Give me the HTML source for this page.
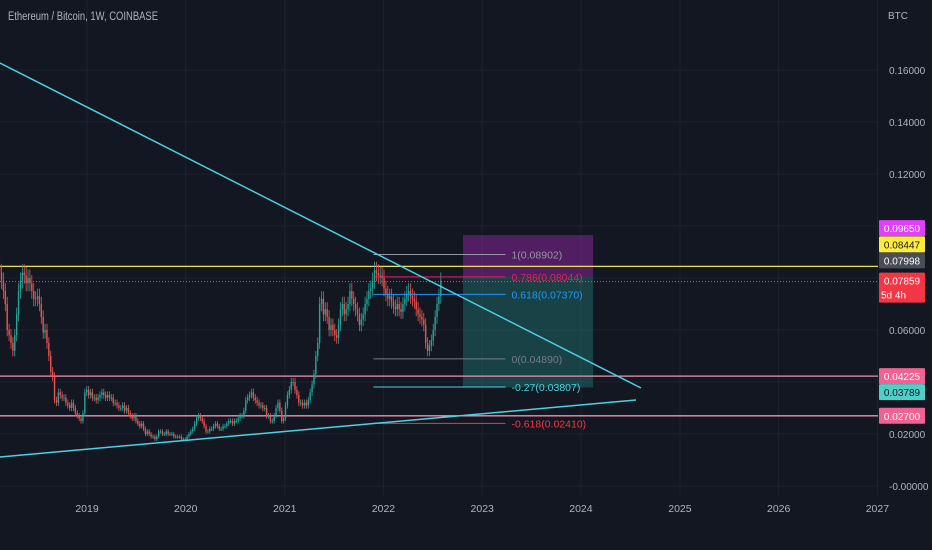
<!DOCTYPE html>
<html><head><meta charset="utf-8"><style>
html,body{margin:0;padding:0;background:#131722;}
svg{display:block;font-family:"Liberation Sans",sans-serif;}
</style></head><body>
<svg id="chart" width="932" height="550" viewBox="0 0 932 550" xmlns="http://www.w3.org/2000/svg">
<rect x="0" y="0" width="932" height="550" fill="#131722"/>
<g id="grid"></g>
<g id="box"></g>
<g id="hlines"></g>
<g id="candles"></g>
<g id="fib"></g>
<g id="trend"></g>
<g id="axes"></g>
<text x="8" y="20" fill="#b2b5be" font-size="11.5" textLength="150" lengthAdjust="spacingAndGlyphs">Ethereum / Bitcoin, 1W, COINBASE</text>
<text x="888" y="19" fill="#b2b5be" font-size="10">BTC</text>
</svg>
<script>
const closes = [
0.085,0.082,0.079,0.075, 0.070,0.060,0.058,0.055, 0.052,0.058,0.066,0.075,0.079, 0.082,0.081,0.078,0.080,
0.078,0.075,0.072,0.072, 0.073,0.070,0.065,0.059,0.060, 0.055,0.050,0.044,0.042, 0.033,0.032,0.036,0.035,
0.034,0.034,0.032,0.031,0.030, 0.032,0.030,0.028,0.027, 0.026,0.025,0.028,0.036,0.037,
0.035,0.036,0.034,0.034, 0.033,0.034,0.035,0.036, 0.035,0.034,0.035,0.034, 0.034,0.032,0.032,0.031,0.030,
0.030,0.031,0.029,0.030, 0.028,0.027,0.026,0.027, 0.025,0.024,0.023,0.024,0.022, 0.020,0.021,0.020,0.019,
0.019,0.018,0.019,0.021,0.021, 0.020,0.020,0.021,0.020, 0.020,0.020,0.019,0.019, 0.019,0.019,0.018,0.018,0.018,
0.019,0.020,0.021,0.022, 0.024,0.026,0.027,0.026, 0.025,0.023,0.021,0.021,0.022, 0.022,0.023,0.024,0.023,
0.022,0.022,0.023,0.023, 0.024,0.025,0.025,0.024,0.025, 0.025,0.026,0.027,0.027, 0.029,0.033,0.034,0.035,
0.036,0.034,0.033,0.032, 0.031,0.031,0.030,0.030,0.027, 0.027,0.025,0.025,0.027, 0.030,0.032,0.029,0.025,
0.026,0.031,0.035,0.037,0.040, 0.040,0.037,0.035,0.032, 0.032,0.031,0.032,0.031, 0.033,0.036,0.039,0.043,0.050,
0.055,0.070,0.072,0.066, 0.068,0.065,0.060,0.062, 0.060,0.058,0.057,0.062, 0.068,0.070,0.066,0.068,0.070,
0.075,0.072,0.070,0.068, 0.066,0.062,0.064,0.066, 0.070,0.072,0.075,0.076,0.079, 0.083,0.082,0.081,0.081,
0.080,0.076,0.074,0.072,0.073, 0.071,0.069,0.068,0.070, 0.068,0.067,0.070,0.072, 0.074,0.075,0.073,0.072,
0.071,0.068,0.066,0.065,0.064, 0.062,0.055,0.052,0.054, 0.056,0.060,0.065,0.070, 0.073,0.079
];
const firstOpen = 0.088;
const startDate = "2018-02-05";
const priceTicks = [0.16,0.14,0.12,0.06,0.02,0.00];
const priceTickLabels = ["0.16000","0.14000","0.12000","0.06000","0.02000","-0.00000"];
const years = [2019,2020,2021,2022,2023,2024,2025,2026,2027];
const fibLevels = ["1","0.786","0.618","0","-0.27","-0.618"];
const fibValues = [0.08902,0.08044,0.07370,0.04890,0.03807,0.02410];
const hlineValues = [0.08447,0.07859,0.04225,0.02700];
const axisLabelValues = [0.09650,0.08447,0.07998,0.07859,0.04225,0.03789,0.02700];
const axisLabelTexts = ["0.09650","0.08447","0.07998","0.07859","0.04225","0.03789","0.02700"];

const NS="http://www.w3.org/2000/svg";
function y(v){return 486 - v*2600;}
const base = Date.UTC(2019,0,1);
function xd(ms){return 87 + (ms-base)/86400000*(98.8/365.25);}
function xy(yr){return xd(Date.UTC(yr,0,1));}
function mk(tag,attrs,parent){const e=document.createElementNS(NS,tag);for(const k in attrs)e.setAttribute(k,attrs[k]);parent.appendChild(e);return e;}
const G=id=>document.getElementById(id);

years.forEach(yr=>{
  const l=mk('line',{x1:xy(yr),x2:xy(yr),y1:0,y2:495,stroke:'#1e222d','stroke-width':1},G('grid'));
  
  
});
[0.16,0.14,0.12,0.10,0.08,0.06,0.04,0.02,0.00].forEach(v=>{
  const l=mk('line',{x1:0,x2:878,y1:y(v),y2:y(v),stroke:'#1e222d','stroke-width':1},G('grid'));
  
  
});

const bx1=xd(Date.UTC(2022,9,22)), bx2=xd(Date.UTC(2024,1,15));
let r=mk('rect',{x:bx1,y:y(0.0965),width:bx2-bx1,height:y(0.0806)-y(0.0965),fill:'rgba(156,39,176,0.45)'},G('box'));


r=mk('rect',{x:bx1,y:y(0.0806),width:bx2-bx1,height:y(0.03789)-y(0.0806),fill:'rgba(38,166,154,0.3)'},G('box'));



const hcols=['#e8e05a','#ef5350','#f48fb1','#f48fb1'];
hlineValues.forEach((v,i)=>{
  const a={x1:0,x2:878,y1:y(v),y2:y(v),stroke:hcols[i],'stroke-width':i==1?1:1.3};
  if(i==1)a['stroke-dasharray']='1 2';
  const l=mk('line',a,G('hlines'));
  
  
});

const t0=Date.parse(startDate);
let prev=firstOpen;
closes.forEach((c,i)=>{
  const o=prev; prev=c;
  const x=xd(t0+i*7*86400000);
  const up=c>=o, col=up?'#26a69a':'#ef5350';
  const hi=Math.max(o,c)*1.04, lo=Math.min(o,c)*0.96;
  const w=mk('line',{x1:x,x2:x,y1:y(hi),y2:y(lo),stroke:col,'stroke-width':0.8},G('candles'));
  
  
  const b=mk('rect',{x:x-0.7,y:y(Math.max(o,c)),width:1.4,height:Math.max(1,Math.abs(y(o)-y(c))),fill:col},G('candles'));
  
  
});

const fcols=['#9598a1','#e91e63','#2196f3','#787b86','#4dd0e1','#f23645'];
const fx1=xd(Date.UTC(2021,10,25)), fx2=xd(Date.UTC(2023,2,28));
fibValues.forEach((v,i)=>{
  const l=mk('line',{x1:fx1,x2:fx2,y1:y(v),y2:y(v),stroke:fcols[i],'stroke-width':1},G('fib'));
  
  
  const t=mk('text',{x:fx2+6,y:y(v)+4,fill:fcols[i],'font-size':10.5},G('fib'));
  t.textContent=fibLevels[i]+'('+v.toFixed(5)+')';
  
  
});

let tl=mk('line',{x1:0,y1:63,x2:641,y2:388,stroke:'#4dd0e1','stroke-width':1.5},G('trend'));


tl=mk('line',{x1:0,y1:457,x2:636,y2:400,stroke:'#4dd0e1','stroke-width':1.5},G('trend'));



priceTicks.forEach((v,i)=>{
  const t=mk('text',{x:889,y:y(v)+4,fill:'#b2b5be','font-size':10},G('axes'));
  t.textContent=priceTickLabels[i];
  
  
});
years.forEach(yr=>{
  const t=mk('text',{x:xy(yr),y:512,fill:'#b2b5be','font-size':10.5,'text-anchor':'middle'},G('axes'));
  t.textContent=yr;
  
  
});
const lcols=['#e040fb','#ffeb3b','#4a4d55','#f23645','#f06292','#4dd0c8','#f06292'];
const tcols=['#fff','#131722','#fff','#fff','#fff','#131722','#fff'];
const labelShift=[-7,-22,-18,-1,0,0,0];
let lastBottom=-100;
axisLabelValues.forEach((v,i)=>{
  const h = i==3?30:16;
  let top=Math.max(y(v)-8+labelShift[i],lastBottom);
  lastBottom=top+h;
  const r=mk('rect',{x:879,y:top,width:46,height:h,fill:lcols[i],rx:1},G('axes'));
  
  
  const t=mk('text',{x:902,y:top+12,fill:tcols[i],'font-size':10,'text-anchor':'middle'},G('axes'));
  t.textContent=axisLabelTexts[i];
  
  
  if(i==3){
    const t2=mk('text',{x:881,y:top+26,fill:'#fff','font-size':10},G('axes'));
    t2.textContent='5d 4h';
    
    
  }
});
</script>
</body></html>
